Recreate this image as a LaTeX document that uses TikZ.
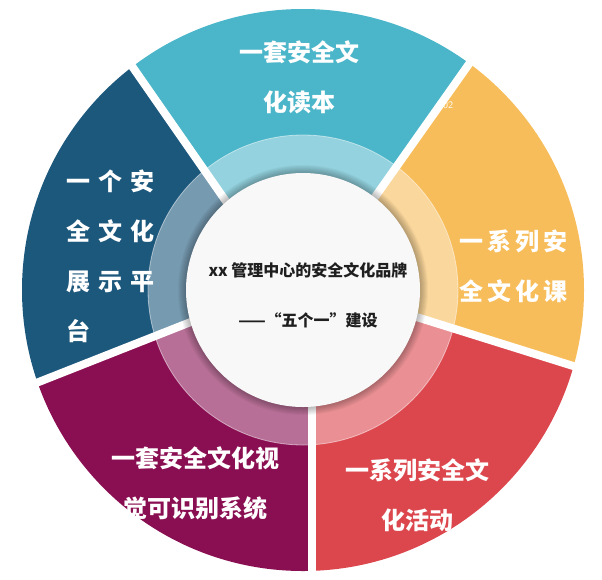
\documentclass[tikz,border=0pt]{standalone}
\usepackage{fontspec}
\newfontfamily\cjk{Noto Sans CJK SC}
\definecolor{tealseg}{HTML}{4BB5C9}
\definecolor{goldseg}{HTML}{F7BD5A}
\definecolor{redseg}{HTML}{DC474E}
\definecolor{plumseg}{HTML}{8A0F52}
\definecolor{navyseg}{HTML}{1C577C}
\definecolor{hubfill}{HTML}{F8F8F8}
\newcommand{\gsp}[1]{\hspace{#1}}

\begin{document}
\begin{tikzpicture}[x=1pt, y=-1pt,
  seg/.style={text=white, inner sep=0pt, font={\cjk\bfseries\fontsize{24pt}{50pt}\selectfont}},
  hubtext/.style={text=black!88, inner sep=0pt, align=center, font={\cjk\bfseries\fontsize{16pt}{50pt}\selectfont}},
  gap/.style={white, line width=8pt},
  ring/.style={fill=white, fill opacity=0.4},
  shade/.style={fill=black, fill opacity=0.035}]

\useasboundingbox (0,0) rectangle (602,579);

\coordinate (c) at (303,290);
\coordinate (g1a) at (287,289); \coordinate (g1b) at (70,-23);
\coordinate (g2a) at (310,289); \coordinate (g2b) at (529,-21);
\coordinate (g3a) at (303,281.5); \coordinate (g3b) at (666,395);
\coordinate (g4a) at (312,289); \coordinate (g4b) at (312,680);
\coordinate (g5a) at (303,277.7); \coordinate (g5b) at (-50,417);

\begin{scope}
\clip (c) circle[radius=281pt];
\fill[tealseg] (g1a) -- (g1b) -- (g2b) -- (g2a) -- cycle;
\fill[goldseg] (g2a) -- (g2b) -- (700,-40) -- (g3b) -- (g3a) -- cycle;
\fill[redseg] (g3a) -- (g3b) -- (700,700) -- (g4b) -- (g4a) -- cycle;
\fill[plumseg] (g4a) -- (g4b) -- (-100,700) -- (g5b) -- (g5a) -- cycle;
\fill[navyseg] (g5a) -- (g5b) -- (-100,-40) -- (g1b) -- (g1a) -- cycle;
\end{scope}

\fill[ring] (c) circle[radius=155pt];
\draw[white, opacity=0.5, line width=0.8pt] (c) circle[radius=155pt];

\draw[gap] (g1a) -- (g1b);
\draw[gap] (g2a) -- (g2b);
\draw[gap] (g3a) -- (g3b);
\draw[gap] (g4a) -- (g4b);
\draw[gap] (g5a) -- (g5b);

\foreach \k in {1,...,9}
  \fill[shade, shift={(2,3)}] (c) circle[radius={116pt+\k*1pt}];
\fill[hubfill] (c) circle[radius=117pt];

\node[hubtext] (hub) at (308,295) {xx 管理中心的安全文化品牌\\——“五个一”建设};

\node[seg, align=center] (duben) at (299,77) {一套安全文\\化读本};
\node[seg, align=left, anchor=west] (kecheng) at (459,266)
  {一\gsp{4pt}系\gsp{4pt}列\gsp{4pt}安\\全\gsp{4pt}文\gsp{4pt}化\gsp{4pt}课};
\node[seg, align=center] (huodong) at (417,495) {一系列安全文\\化活动};
\node[seg, align=center] (shijue) at (195,483) {一套安全文化视\\觉可识别系统};
\node[seg, align=left, anchor=west] (zhanshi) at (66,256)
  {一\gsp{8pt}个\gsp{8pt}安\\全\gsp{8pt}文\gsp{8pt}化\\展\gsp{8pt}示\gsp{8pt}平\\台};
\node[text=white, inner sep=0pt, font={\sffamily\fontsize{10pt}{10pt}\selectfont}] (num) at (448,105) {02};
\end{tikzpicture}
\end{document}
